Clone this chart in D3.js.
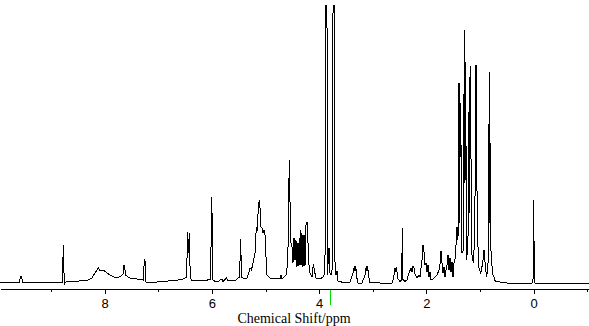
<!DOCTYPE html>
<html>
<head>
<meta charset="utf-8">
<script src="https://cdn.jsdelivr.net/npm/d3@7"></script>
<style>
  html, body { margin: 0; padding: 0; background: #fff; }
  svg { display: block; }
</style>
</head>
<body>
<script>
// Chemical shift (ppm) and intensity (arbitrary units)
const shiftPpm = [
  9.952, 9.589, 9.570, 9.552, 9.533, 8.787, 8.772, 8.753, 8.722, 8.554,
  8.311, 8.237, 8.181, 8.144, 8.116, 8.088, 8.060, 8.032, 7.976, 7.901,
  7.827, 7.752, 7.696, 7.653, 7.640, 7.627, 7.612, 7.566, 7.510, 7.398,
  7.276, 7.262, 7.248, 7.230, 7.211, 6.931, 6.689, 6.540, 6.471, 6.456,
  6.441, 6.422, 6.404, 6.372, 6.297, 6.223, 6.111, 6.023, 6.008, 5.993,
  5.980, 5.943, 5.869, 5.818, 5.794, 5.725, 5.701, 5.552, 5.486, 5.464,
  5.449, 5.402, 5.341, 5.309, 5.290, 5.262, 5.235, 5.197, 5.173, 5.154,
  5.132, 5.117, 5.098, 5.085, 5.067, 5.048, 5.029, 5.005, 4.992, 4.973,
  4.918, 4.824, 4.731, 4.712, 4.694, 4.656, 4.606, 4.582, 4.558, 4.545,
  4.526, 4.507, 4.489, 4.470, 4.451, 4.433, 4.414, 4.395, 4.377, 4.352,
  4.339, 4.321, 4.302, 4.283, 4.265, 4.246, 4.227, 4.209, 4.190, 4.172,
  4.134, 4.110, 4.084, 4.060, 3.985, 3.929, 3.892, 3.879, 3.860, 3.845,
  3.830, 3.817, 3.799, 3.780, 3.752, 3.737, 3.718, 3.705, 3.687, 3.668,
  3.649, 3.519, 3.426, 3.370, 3.345, 3.332, 3.319, 3.301, 3.276, 3.202,
  3.146, 3.122, 3.109, 3.096, 3.081, 3.053, 2.866, 2.680, 2.642, 2.618,
  2.586, 2.573, 2.562, 2.549, 2.531, 2.493, 2.462, 2.450, 2.437, 2.400,
  2.363, 2.325, 2.288, 2.269, 2.251, 2.232, 2.214, 2.176, 2.139, 2.120,
  2.102, 2.083, 2.064, 2.046, 2.027, 2.008, 1.990, 1.971, 1.952, 1.934,
  1.915, 1.878, 1.841, 1.803, 1.766, 1.742, 1.729, 1.710, 1.691, 1.673,
  1.654, 1.635, 1.617, 1.598, 1.579, 1.561, 1.542, 1.524, 1.505, 1.486,
  1.468, 1.449, 1.430, 1.412, 1.393, 1.380, 1.369, 1.356, 1.337, 1.313,
  1.294, 1.281, 1.272, 1.249, 1.225, 1.201, 1.192, 1.182, 1.156, 1.126,
  1.100, 1.076, 1.052, 1.026, 0.988, 0.951, 0.927, 0.895, 0.876, 0.847,
  0.828, 0.819, 0.809, 0.796, 0.783, 0.772, 0.740, 0.716, 0.628, 0.498,
  0.032, 0.013, 0.000, -0.011, -0.024, -1.031
];
const intensity = [
  1, 1, 7, 7, 1, 1, 38, -1, 1, 1.5,
  3, 5, 10, 13, 15, 12, 13, 13, 11, 8,
  6, 5.5, 7, 9, 18, 16, 8, 6, 4.5, 4,
  3, 23, 22, 1, 0, 1.5, 2.5, 4, 6, 51,
  30, 49.5, 5, 2, 2.5, 2, 2.5, 4, 86, 60,
  3, 1.5, 2, 4, 1.5, 5, 2, 3, 6, 44,
  6, 4, 5, 11, 15, 13, 20, 30, 55, 53,
  80, 81.5, 73, 56, 55, 50, 53, 47, 26, 8,
  5, 4, 4.5, 8, 4, 6, 9, 33, 123, 83,
  40, 36, 20, 45, 23, 43, 16, 40, 17, 53,
  18, 50, 16, 48, 17, 58, 61, 40, 18, 10,
  6, 19, 11, 5, 4, 6, 10, 400, 400, 8,
  25, 35, 10, 8, 15, 400, 400, 15, 8, 12,
  2, 0, 1, 10, 16.5, 12, 17, 6, 0, 0,
  8, 16.5, 12, 17, 7, 0.5, 0, -0.5, 0, 3.7,
  15, 11, 16, 11, 4, 1.5, 3, 55, 3, 1.5,
  3, 10, 15, 11, 17, 15, 9, 5, 8, 6,
  15, 23, 38, 31, 18, 20, 11, 18, 6, 11,
  3, 4, 6, 8, 13, 21, 32, 20, 10, 16,
  6, 13, 18, 28, 13, 25, 11, 21, 6, 20,
  23, 38, 56, 43, 200, 60, 180, 140, 30, 33,
  253, 100, 221, 23, 46, 206, 70, 217, 30, 20,
  46, 218, 58, 16, 10, 20, 33, 13, 6, 23,
  211, 60, 140, 30, 25, 10, 6, 1.5, 1, 0,
  0, 3, 83, 3, 0, 0
];
const majorTicks = [8, 6, 4, 2, 0];
const minorTicks = [9, 7, 5, 3, 1, -1];
const axisTitle = "Chemical Shift/ppm";
const markerPpm = 3.786;

const W = 589, H = 326;
const svg = d3.select("body").append("svg").attr("width", W).attr("height", H);

const x = d3.scaleLinear().domain([9.952, -1.031]).range([0, 589]);
const y = d3.scaleLinear().domain([0, 278]).range([283, 5]);
const axisY = 289;

svg.append("clipPath").attr("id", "plotclip")
  .append("rect").attr("x", 0).attr("y", 5).attr("width", W).attr("height", axisY - 5);

const pts = shiftPpm.map((p, i) => [p, intensity[i]]);
const line = d3.line().x(d => x(d[0])).y(d => y(d[1]));

svg.append("path")
  .attr("d", line(pts))
  .attr("clip-path", "url(#plotclip)")
  .attr("fill", "none")
  .attr("stroke", "#000")
  .attr("stroke-width", 1)
  .attr("shape-rendering", "crispEdges");

// axis
const axisG = svg.append("g").attr("transform", `translate(0,${axisY})`);
const axMajor = d3.axisBottom(x).tickValues(majorTicks).tickSize(5).tickPadding(4)
  .tickFormat(d3.format("d")).tickSizeOuter(0);
axisG.call(axMajor);
axisG.select(".domain").attr("stroke", "#000").attr("shape-rendering", "crispEdges");
axisG.selectAll(".tick line").attr("stroke", "#000").attr("shape-rendering", "crispEdges");
axisG.selectAll(".tick text")
  .attr("y", 18.5).attr("dy", null)
  .attr("fill", "#000")
  .style("font-family", "'Liberation Sans Narrow', 'Arial Narrow', 'Liberation Sans', sans-serif")
  .style("font-size", "13px");

const minorG = svg.append("g").attr("transform", `translate(0,${axisY})`);
minorG.call(d3.axisBottom(x).tickValues(minorTicks).tickSize(3).tickFormat(""));
minorG.select(".domain").remove();
minorG.selectAll(".tick line").attr("stroke", "#000").attr("shape-rendering", "crispEdges");

// green marker
svg.append("line")
  .attr("x1", x(markerPpm)).attr("x2", x(markerPpm))
  .attr("y1", axisY + 1).attr("y2", 305)
  .attr("stroke", "#00e000").attr("stroke-width", 1)
  .attr("shape-rendering", "crispEdges");

svg.append("text")
  .attr("x", 294).attr("y", 322.5)
  .attr("text-anchor", "middle")
  .style("font-family", "'Liberation Serif', 'Times New Roman', serif")
  .style("font-size", "14px")
  .attr("fill", "#000")
  .text(axisTitle);
</script>
</body>
</html>
